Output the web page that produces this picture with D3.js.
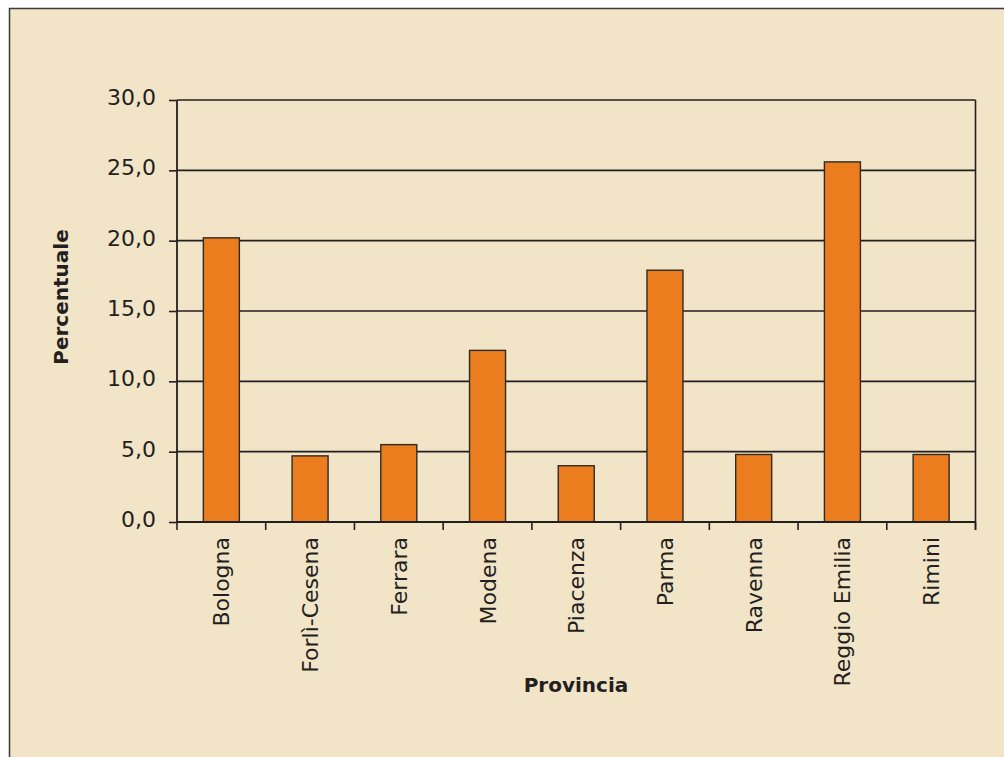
<!DOCTYPE html>
<html><head><meta charset="utf-8">
<script src="https://cdn.jsdelivr.net/npm/d3@7/dist/d3.min.js"></script>
<style>body{margin:0;background:#fff;}svg{display:block;}</style>
</head><body>
<svg id="c" width="1004" height="757"></svg>
<script>
const categories = ["Bologna","Forlì-Cesena","Ferrara","Modena","Piacenza","Parma","Ravenna","Reggio Emilia","Rimini"];
const values = [20.2, 4.7, 5.5, 12.2, 4.0, 17.9, 4.8, 25.6, 4.8];
const yTicks = [0, 5, 10, 15, 20, 25, 30];
const xTitle = "Provincia";
const yTitle = "Percentuale";

const svg = d3.select("#c");
const W = 1004, H = 757;
const m = {left:177, right:975.5, top:100, bottom:522};
const font = "'DejaVu Sans', Verdana, sans-serif";
const ink = "#231f20";

svg.append("rect").attr("x",9.5).attr("y",8.5).attr("width",W).attr("height",H)
  .attr("fill","#f2e4c7").attr("stroke","#3a3a3a").attr("stroke-width",1.5);

const xb = d3.scaleBand().domain(categories).range([m.left, m.right]);
const y = d3.scaleLinear().domain([0,30]).range([m.bottom, m.top]);

// gridlines
svg.append("g").selectAll("line").data(yTicks.filter(d=>d>0)).join("line")
  .attr("x1",m.left).attr("x2",m.right).attr("y1",d=>y(d)).attr("y2",d=>y(d))
  .attr("stroke",ink).attr("stroke-width",1.6);

// right border of plot
svg.append("line").attr("x1",m.right).attr("x2",m.right).attr("y1",m.top).attr("y2",m.bottom+8)
  .attr("stroke",ink).attr("stroke-width",1.6);

// bars
svg.append("g").selectAll("rect").data(values).join("rect")
  .attr("x",(d,i)=>xb(categories[i]) + xb.bandwidth()/2 - 18)
  .attr("width",36)
  .attr("y",d=>y(d)).attr("height",d=>y(0)-y(d))
  .attr("fill","#ec7d1f").attr("stroke","#2e2a26").attr("stroke-width",1.4);

// y axis
const yAxis = svg.append("g").attr("transform",`translate(${m.left},0)`)
  .call(d3.axisLeft(y).tickValues(yTicks).tickSize(8).tickPadding(13)
    .tickFormat(d=>d3.format(".1f")(d).replace(".",",")));
yAxis.select(".domain").attr("stroke",ink).attr("stroke-width",1.8).attr("d",`M0,${m.top}V${m.bottom}`);
yAxis.selectAll(".tick line").attr("stroke",ink).attr("stroke-width",1.6);
yAxis.selectAll(".tick text").attr("fill",ink).style("font-family",font).style("font-size","22px")
  .attr("transform","translate(0,-2.5)");

// x axis
const xAxis = svg.append("g").attr("transform",`translate(0,${m.bottom})`)
  .call(d3.axisBottom(xb).tickSize(0).tickFormat(""));
xAxis.select(".domain").attr("stroke",ink).attr("stroke-width",1.8).attr("d",`M${m.left},0H${m.right}`);
xAxis.selectAll(".tick").remove();
const bounds = categories.map(c=>xb(c)).concat([m.right]);
svg.append("g").selectAll("line").data(bounds).join("line")
  .attr("x1",d=>d).attr("x2",d=>d).attr("y1",m.bottom).attr("y2",m.bottom+8)
  .attr("stroke",ink).attr("stroke-width",1.6);

svg.append("g").selectAll("text").data(categories).join("text")
  .attr("transform",d=>`translate(${xb(d)+xb.bandwidth()/2+8},${m.bottom+15}) rotate(-90)`)
  .attr("text-anchor","end").attr("fill",ink)
  .style("font-family",font).style("font-size","22px").text(d=>d);

svg.append("text").attr("x",576).attr("y",692).attr("text-anchor","middle")
  .attr("fill",ink).style("font-family",font).style("font-size","20px").style("font-weight","bold").text(xTitle);
svg.append("text").attr("transform","translate(68,297) rotate(-90)").attr("text-anchor","middle")
  .attr("fill",ink).style("font-family",font).style("font-size","20px").style("font-weight","bold").text(yTitle);
</script>
</body></html>
